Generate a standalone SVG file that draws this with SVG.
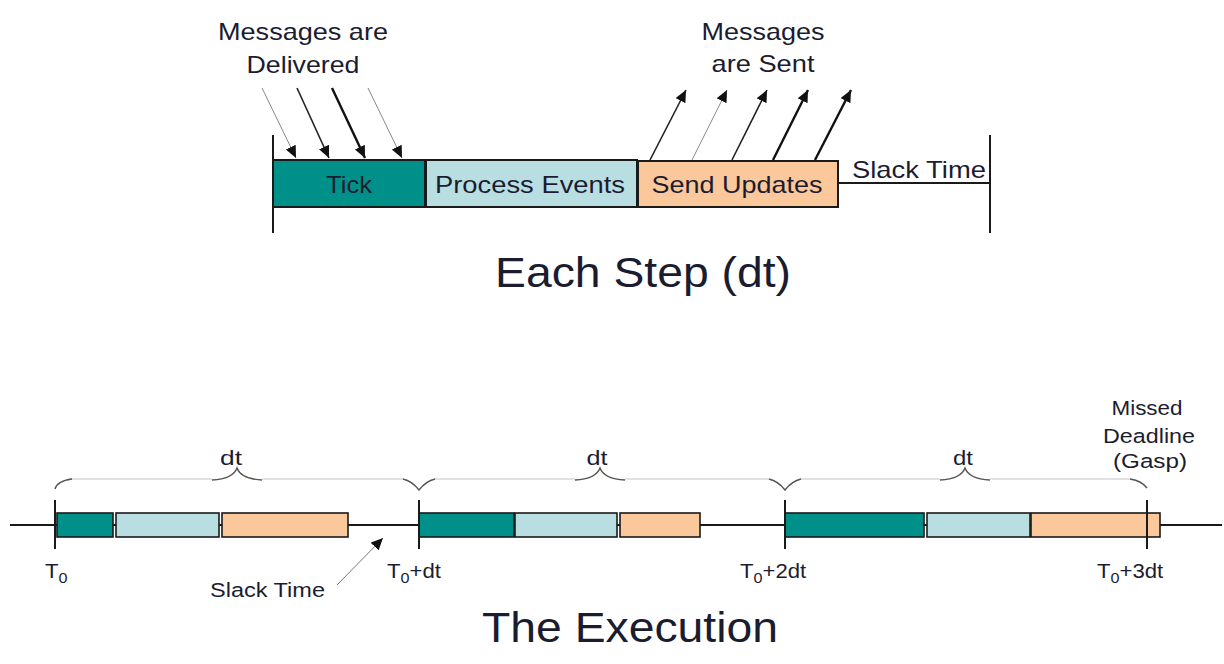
<svg xmlns="http://www.w3.org/2000/svg" width="1224" height="664" viewBox="0 0 1224 664">
<defs>
<marker id="ah" markerUnits="userSpaceOnUse" markerWidth="14" markerHeight="12" refX="12" refY="5.5" orient="auto">
<path d="M0,0 L12,5.5 L0,11 Z" fill="#111"/>
</marker>
<style>
text{font-family:"Liberation Sans",Arial,sans-serif;fill:#1c1c30}
.lbl{font-size:24px}
.sm{font-size:20.5px}
.title{font-size:43px}
.tick{fill:#00908a;stroke:#1a1a1a;stroke-width:2}
.proc{fill:#b8dee2;stroke:#1a1a1a;stroke-width:2}
.send{fill:#fac89b;stroke:#1a1a1a;stroke-width:2}
.btick{fill:#00908a;stroke:#1a1a1a;stroke-width:1.6}
.bproc{fill:#b8dee2;stroke:#1a1a1a;stroke-width:1.6}
.bsend{fill:#fac89b;stroke:#1a1a1a;stroke-width:1.6}
.ln{stroke:#1a1a1a;stroke-width:2;fill:none}
.thin{stroke:#888;stroke-width:1;fill:none;marker-end:url(#ah)}
.med{stroke:#222;stroke-width:1.6;fill:none;marker-end:url(#ah)}
.bold{stroke:#111;stroke-width:2.4;fill:none;marker-end:url(#ah)}
.brl{stroke:#c4c4c4;stroke-width:1;fill:none}
.brd{stroke:#555;stroke-width:1.4;fill:none}
</style>
</defs>
<rect width="1224" height="664" fill="#fff"/>

<!-- Top: Each Step -->
<g id="step-frame">
<line class="ln" x1="273" y1="135" x2="273" y2="233"/>
<line class="ln" x1="990" y1="135" x2="990" y2="233"/>
<line class="ln" x1="838" y1="183" x2="990" y2="183"/>
</g>
<g id="node-tick">
<rect class="tick" x="273" y="160" width="152" height="47"/>
<text class="lbl" x="349" y="193" text-anchor="middle" textLength="46" lengthAdjust="spacingAndGlyphs">Tick</text>
</g>
<g id="node-process">
<rect class="proc" x="426" y="160" width="211" height="47"/>
<text class="lbl" x="530" y="193" text-anchor="middle" textLength="190" lengthAdjust="spacingAndGlyphs">Process Events</text>
</g>
<g id="node-send">
<rect class="send" x="638" y="161" width="200" height="46"/>
<text class="lbl" x="737" y="193" text-anchor="middle" textLength="171" lengthAdjust="spacingAndGlyphs">Send Updates</text>
</g>
<g id="label-slack-top">
<text class="lbl" x="852" y="178" textLength="134" lengthAdjust="spacingAndGlyphs">Slack Time</text>
</g>
<g id="label-delivered">
<text class="lbl" x="303" y="40" text-anchor="middle" textLength="170" lengthAdjust="spacingAndGlyphs">Messages are</text>
<text class="lbl" x="303" y="73" text-anchor="middle" textLength="113" lengthAdjust="spacingAndGlyphs">Delivered</text>
</g>
<g id="label-sent">
<text class="lbl" x="763" y="40" text-anchor="middle" textLength="123" lengthAdjust="spacingAndGlyphs">Messages</text>
<text class="lbl" x="763" y="72" text-anchor="middle" textLength="103" lengthAdjust="spacingAndGlyphs">are Sent</text>
</g>
<g id="connectors-top">
<line class="thin" x1="262" y1="88" x2="296" y2="158"/>
<line class="med" x1="297" y1="88" x2="329" y2="158"/>
<line class="bold" x1="332" y1="88" x2="365" y2="158"/>
<line class="thin" x1="368" y1="88" x2="402" y2="158"/>
<line class="med" x1="650" y1="160" x2="686" y2="90"/>
<line class="thin" x1="692" y1="160" x2="727" y2="90"/>
<line class="med" x1="732" y1="160" x2="767" y2="90"/>
<line class="bold" x1="773" y1="160" x2="808" y2="90"/>
<line class="bold" x1="815" y1="160" x2="851" y2="90"/>
</g>
<text class="title" x="643" y="287" text-anchor="middle" textLength="296" lengthAdjust="spacingAndGlyphs">Each Step (dt)</text>

<!-- Bottom: The Execution -->
<g id="timeline">
<line class="ln" x1="10" y1="525" x2="1222" y2="525"/>
</g>
<g id="cycle-1">
<rect class="btick" x="57" y="513" width="56" height="24"/>
<rect class="bproc" x="116" y="513" width="103" height="24"/>
<rect class="bsend" x="222" y="513" width="126" height="24"/>
</g>
<g id="cycle-2">
<rect class="btick" x="419" y="513" width="95" height="24"/>
<rect class="bproc" x="515" y="513" width="102" height="24"/>
<rect class="bsend" x="620" y="513" width="80" height="24"/>
</g>
<g id="cycle-3">
<rect class="btick" x="785" y="513" width="139" height="24"/>
<rect class="bproc" x="927" y="513" width="103" height="24"/>
<rect class="bsend" x="1031" y="513" width="129" height="24"/>
</g>
<g id="ticks">
<line class="ln" x1="55" y1="500" x2="55" y2="549"/>
<line class="ln" x1="419" y1="500" x2="419" y2="549"/>
<line class="ln" x1="785" y1="500" x2="785" y2="549"/>
<line class="ln" x1="1147" y1="500" x2="1147" y2="549"/>
</g>
<g id="braces">
<path class="brl" d="M70,479 L212,479 M262,479 L403,479 M435,479 L575,479 M625,479 L769,479 M801,479 L940,479 M990,479 L1130,479"/>
<path class="brd" d="M55,489 Q57,481 72,479"/>
<path class="brd" d="M212,480 Q233,479 237,468 Q241,479 262,480"/>
<path class="brd" d="M403,479 Q412,481 419,490 Q426,481 435,479"/>
<path class="brd" d="M575,480 Q596,479 600,468 Q604,479 625,480"/>
<path class="brd" d="M769,479 Q778,481 785,490 Q792,481 801,479"/>
<path class="brd" d="M940,480 Q961,479 965,468 Q969,479 990,480"/>
<path class="brd" d="M1130,479 Q1142,481 1147,488"/>
<text class="sm" x="231" y="465" text-anchor="middle" textLength="22" lengthAdjust="spacingAndGlyphs">dt</text>
<text class="sm" x="597" y="465" text-anchor="middle" textLength="21" lengthAdjust="spacingAndGlyphs">dt</text>
<text class="sm" x="963" y="465" text-anchor="middle" textLength="20" lengthAdjust="spacingAndGlyphs">dt</text>
</g>
<g id="time-labels">
<text class="sm" transform="translate(45,578) scale(1.08,1)">T<tspan font-size="15" dy="5">0</tspan></text>
<text class="sm" transform="translate(387,578) scale(1.08,1)">T<tspan font-size="15" dy="5">0</tspan><tspan dy="-5">+dt</tspan></text>
<text class="sm" transform="translate(740,578) scale(1.08,1)">T<tspan font-size="15" dy="5">0</tspan><tspan dy="-5">+2dt</tspan></text>
<text class="sm" transform="translate(1097,578) scale(1.08,1)">T<tspan font-size="15" dy="5">0</tspan><tspan dy="-5">+3dt</tspan></text>
</g>
<g id="label-slack-bottom">
<text class="sm" x="210" y="597" textLength="115" lengthAdjust="spacingAndGlyphs">Slack Time</text>
<line x1="337" y1="585" x2="383" y2="538" stroke="#777" stroke-width="1" marker-end="url(#ah)"/>
</g>
<g id="label-missed">
<text class="sm" x="1147" y="415" text-anchor="middle" textLength="71" lengthAdjust="spacingAndGlyphs">Missed</text>
<text class="sm" x="1149" y="443" text-anchor="middle" textLength="92" lengthAdjust="spacingAndGlyphs">Deadline</text>
<text class="sm" x="1150" y="468" text-anchor="middle" textLength="74" lengthAdjust="spacingAndGlyphs">(Gasp)</text>
</g>
<text class="title" x="630" y="642" text-anchor="middle" textLength="296" lengthAdjust="spacingAndGlyphs">The Execution</text>
</svg>
